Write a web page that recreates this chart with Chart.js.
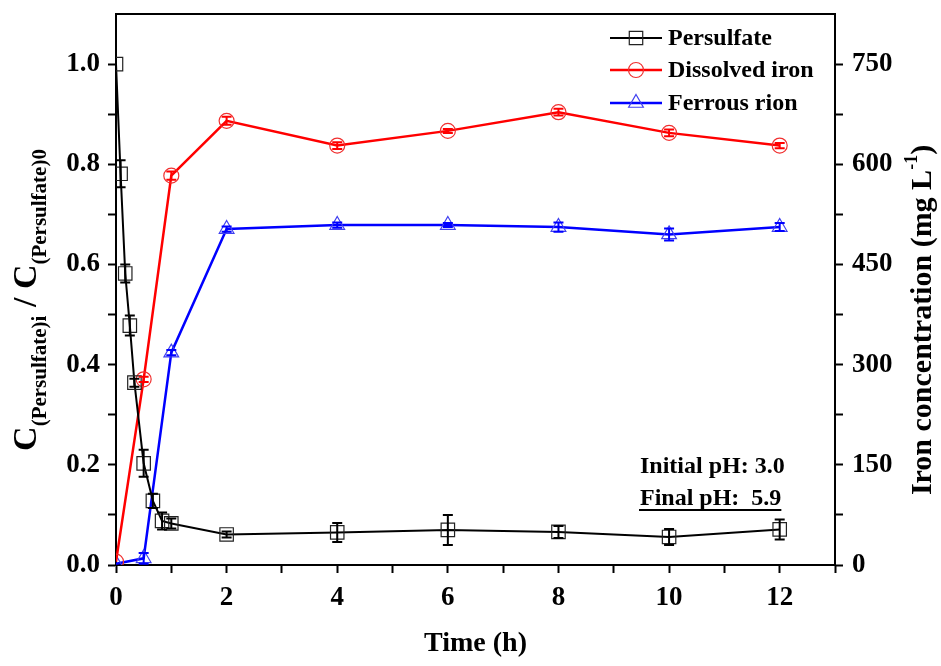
<!DOCTYPE html>
<html>
<head>
<meta charset="utf-8">
<script src="https://cdn.jsdelivr.net/npm/chart.js@4/dist/chart.umd.min.js"></script>
<style>
  html, body { margin: 0; padding: 0; background: #fff; }
  #wrap { width: 941px; height: 666px; }
</style>
</head>
<body>
<div id="wrap"><canvas id="c" width="941" height="666"></canvas></div>
<script>
// Sampling times (h) and measured values
const timePersulfate = [0, 0.083, 0.167, 0.25, 0.333, 0.5, 0.667, 0.833, 1, 2, 4, 6, 8, 10, 12];
const persulfateRatio = [1.0, 0.781, 0.582, 0.478, 0.364, 0.203, 0.128, 0.088, 0.083, 0.061, 0.065, 0.070, 0.066, 0.056, 0.071];
const persulfateError = [0, 0.027, 0.018, 0.02, 0.008, 0.027, 0.014, 0.017, 0.01, 0.006, 0.019, 0.03, 0.012, 0.016, 0.02];

const timeIron = [0, 0.5, 1, 2, 4, 6, 8, 10, 12];
const dissolvedIron = [5, 278, 583, 665, 628, 650, 678, 647, 628];
const dissolvedIronError = [0, 4, 6, 6, 5, 3, 5, 5, 4];
const ferrousIron = [2, 10, 318, 503, 509, 509, 506, 495, 506];
const ferrousIronError = [0, 8, 4, 4, 4, 3, 7, 9, 6];

const seriesLabels = ['Persulfate', 'Dissolved iron', 'Ferrous rion'];
const phNotes = ['Initial pH: 3.0', 'Final pH:  5.9'];

const FONT = "'Liberation Serif', 'Times New Roman', serif";

const toPoints = (xs, ys) => xs.map((x, i) => ({ x: x, y: ys[i] }));

// Vertical error bars with caps, drawn through the chart scales
const errorBarPlugin = {
  id: 'errorBars',
  afterDatasetsDraw(chart) {
    const ctx = chart.ctx;
    const xs = chart.scales.x;
    chart.data.datasets.forEach((ds) => {
      const ys = chart.scales[ds.yAxisID];
      ctx.save();
      ctx.strokeStyle = ds.borderColor;
      ctx.lineWidth = 2;
      ds.data.forEach((p, j) => {
        const e = ds.errors[j];
        if (!e) return;
        const x = xs.getPixelForValue(p.x);
        const yTop = ys.getPixelForValue(p.y + e);
        const yBot = ys.getPixelForValue(p.y - e);
        ctx.beginPath();
        ctx.moveTo(x, yTop); ctx.lineTo(x, yBot);
        ctx.moveTo(x - 5, yTop); ctx.lineTo(x + 5, yTop);
        ctx.moveTo(x - 5, yBot); ctx.lineTo(x + 5, yBot);
        ctx.stroke();
      });
      ctx.restore();
    });
  }
};

// Draws a run of text pieces (with sub/superscripts) centred on the origin
function drawRich(ctx, segs) {
  let total = 0;
  segs.forEach(s => {
    ctx.font = 'bold ' + s.size + 'px ' + FONT;
    s.w = ctx.measureText(s.text).width;
    total += s.w;
  });
  let x = -total / 2;
  ctx.textBaseline = 'alphabetic';
  ctx.textAlign = 'left';
  segs.forEach(s => {
    ctx.font = 'bold ' + s.size + 'px ' + FONT;
    ctx.fillText(s.text, x, s.dy || 0);
    x += s.w;
  });
}

const decorPlugin = {
  id: 'decor',
  afterDraw(chart) {
    const ctx = chart.ctx;
    const a = chart.chartArea;
    ctx.save();
    ctx.fillStyle = '#000';
    ctx.strokeStyle = '#000';

    // top frame line
    ctx.lineWidth = 2;
    ctx.beginPath();
    ctx.moveTo(a.left - 1, a.top);
    ctx.lineTo(a.right + 1, a.top);
    ctx.stroke();

    // legend: line sample + marker + label
    const rows = [38, 70, 103];
    chart.data.datasets.forEach((ds, i) => {
      const y = rows[i];
      ctx.strokeStyle = ds.borderColor;
      ctx.lineWidth = ds.borderWidth;
      ctx.beginPath();
      ctx.moveTo(610, y); ctx.lineTo(662, y);
      ctx.stroke();
      ctx.strokeStyle = ds.pointBorderColor;
      ctx.fillStyle = 'rgba(0,0,0,0)';
      ctx.lineWidth = ds.pointBorderWidth;
      Chart.helpers.drawPoint(ctx, {
        pointStyle: ds.pointStyle, radius: ds.pointRadius, rotation: 0, borderWidth: ds.pointBorderWidth
      }, 636, y);
      ctx.fillStyle = '#000';
      ctx.font = 'bold 24px ' + FONT;
      ctx.textAlign = 'left';
      ctx.textBaseline = 'middle';
      ctx.fillText(ds.label, 668, y + 1);
    });

    // pH notes
    ctx.fillStyle = '#000';
    ctx.font = 'bold 24px ' + FONT;
    ctx.textAlign = 'left';
    ctx.textBaseline = 'alphabetic';
    ctx.fillText(phNotes[0], 640, 473);
    ctx.fillText(phNotes[1], 640, 505);
    const w = ctx.measureText(phNotes[1]).width;
    ctx.lineWidth = 2;
    ctx.strokeStyle = '#000';
    ctx.beginPath();
    ctx.moveTo(639, 510); ctx.lineTo(640 + w, 510);
    ctx.stroke();

    // x-axis title
    ctx.font = 'bold 28px ' + FONT;
    ctx.textAlign = 'center';
    ctx.fillText('Time (h)', (a.left + a.right) / 2, 651);

    // left y-axis title
    ctx.save();
    ctx.translate(36, 300);
    ctx.rotate(-Math.PI / 2);
    drawRich(ctx, [
      { text: 'C', size: 34 },
      { text: '(Persulfate)i', size: 21, dy: 10 },
      { text: ' / ', size: 34 },
      { text: 'C', size: 34 },
      { text: '(Persulfate)0', size: 21, dy: 10 }
    ]);
    ctx.restore();

    // right y-axis title
    ctx.save();
    ctx.translate(931, 320);
    ctx.rotate(-Math.PI / 2);
    drawRich(ctx, [
      { text: 'Iron concentration (mg L', size: 30 },
      { text: '-1', size: 18, dy: -14 },
      { text: ')', size: 30 }
    ]);
    ctx.restore();

    ctx.restore();
  }
};

const tickFont = { family: FONT, size: 27, weight: 'bold' };

// Vertical axes keep a fixed width and no extra label overhang above/below
const fixVertical = width => s => { s.width = width; s.paddingTop = 0; s.paddingBottom = 0; };

new Chart(document.getElementById('c'), {
  type: 'line',
  data: {
    datasets: [
      {
        label: seriesLabels[0],
        data: toPoints(timePersulfate, persulfateRatio),
        errors: persulfateError,
        yAxisID: 'y',
        borderColor: '#000',
        borderWidth: 2,
        pointStyle: 'rect',
        pointRadius: 9.5,
        pointBorderColor: '#222',
        pointBackgroundColor: 'rgba(0,0,0,0)',
        pointBorderWidth: 1.2,
        tension: 0
      },
      {
        label: seriesLabels[1],
        data: toPoints(timeIron, dissolvedIron),
        errors: dissolvedIronError,
        yAxisID: 'y1',
        borderColor: '#ff0000',
        borderWidth: 2.5,
        pointStyle: 'circle',
        pointRadius: 7.5,
        pointBorderColor: '#f03030',
        pointBackgroundColor: 'rgba(0,0,0,0)',
        pointBorderWidth: 1.2,
        tension: 0
      },
      {
        label: seriesLabels[2],
        data: toPoints(timeIron, ferrousIron),
        errors: ferrousIronError,
        yAxisID: 'y1',
        borderColor: '#0000ff',
        borderWidth: 2.5,
        pointStyle: 'triangle',
        pointRadius: 8.5,
        pointBorderColor: '#4040f0',
        pointBackgroundColor: 'rgba(0,0,0,0)',
        pointBorderWidth: 1.2,
        tension: 0
      }
    ]
  },
  options: {
    responsive: false,
    animation: false,
    devicePixelRatio: 1,
    layout: { padding: { top: 14, left: 0, right: 0, bottom: 0 } },
    plugins: { legend: { display: false }, tooltip: { enabled: false } },
    scales: {
      x: {
        type: 'linear',
        min: 0, max: 13,
        border: { color: '#000', width: 2 },
        grid: { drawOnChartArea: false, tickLength: 8, tickWidth: 2, tickColor: '#000' },
        ticks: {
          stepSize: 1, autoSkip: false, maxRotation: 0, padding: 9,
          color: '#000', font: tickFont,
          callback: v => (v % 2 === 0 && v <= 12) ? String(v) : ''
        },
        afterFit: s => { s.height = 101; s.paddingLeft = 0; s.paddingRight = 0; }
      },
      y: {
        position: 'left',
        min: 0, max: 1.1,
        border: { color: '#000', width: 2 },
        grid: {
          drawOnChartArea: false, tickLength: 8, tickWidth: 2,
          tickColor: c => (Math.round(c.tick.value * 10) >= 11 ? 'rgba(0,0,0,0)' : '#000')
        },
        ticks: {
          stepSize: 0.1, autoSkip: false, padding: 8,
          color: '#000', font: tickFont,
          callback: v => {
            const k = Math.round(v * 10);
            return (k % 2 === 0 && k <= 10) ? (k / 10).toFixed(1) : '';
          }
        },
        afterFit: fixVertical(116)
      },
      y1: {
        position: 'right',
        min: 0, max: 825,
        border: { color: '#000', width: 2 },
        grid: {
          drawOnChartArea: false, tickLength: 8, tickWidth: 2,
          tickColor: c => (c.tick.value >= 825 ? 'rgba(0,0,0,0)' : '#000')
        },
        ticks: {
          stepSize: 75, autoSkip: false, padding: 9,
          color: '#000', font: tickFont,
          callback: v => (v % 150 === 0 && v <= 750) ? String(v) : ''
        },
        afterFit: fixVertical(106)
      }
    }
  },
  plugins: [errorBarPlugin, decorPlugin]
});
</script>
</body>
</html>
